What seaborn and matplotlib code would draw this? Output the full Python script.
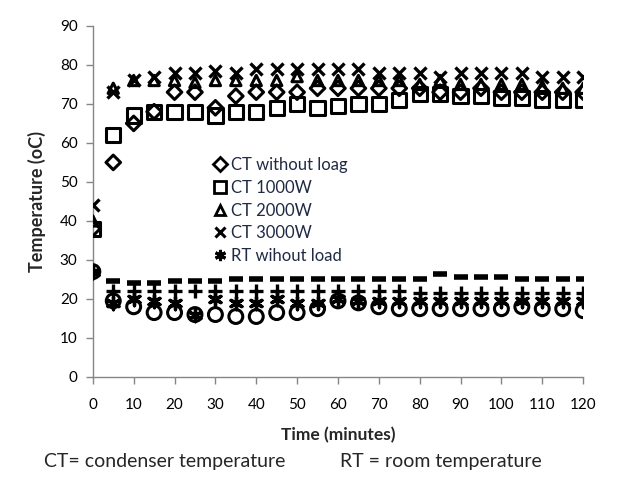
import matplotlib
matplotlib.use("Agg")
import matplotlib.pyplot as plt
from matplotlib.lines import Line2D
import seaborn as sns
import pandas as pd

time = [0, 5, 10, 15, 20, 25, 30, 35, 40, 45, 50, 55, 60, 65, 70, 75, 80, 85, 90, 95, 100, 105, 110, 115, 120]

ct_no_load = [38, 55, 65, 68, 73, 73, 69, 72, 73, 73, 73, 74, 74, 74, 74, 74, 74, 73, 73, 74, 73, 73, 73, 73, 73]
ct_1000 = [38, 62, 67, 68, 68, 68, 67, 68, 68, 69, 70, 69, 69.5, 70, 70, 71, 72.5, 72.5, 72, 72, 71.5, 71.5, 71, 71, 71]
ct_2000 = [40, 74, 76, 76, 76, 75.5, 76, 76, 76, 76, 77, 76, 76, 76, 76, 76, 75, 76, 75, 75, 75, 75, 74.5, 74, 74]
ct_3000 = [44, 73, 76, 77, 78, 78, 78.5, 78, 79, 79, 79, 79, 79, 79, 78, 78, 78, 77, 78, 78, 78, 78, 77, 77, 77]
rt_no_load = [27, 19, 20, 19.5, 19, 16, 20, 19, 19, 20, 19, 19, 20, 19.5, 19.5, 19.5, 19.5, 19.5, 19.5, 19.5, 19.5, 19.5, 19.5, 19.5, 19.5]
rt_1000 = [27, 19.5, 18, 16.5, 16.5, 16, 16, 15.5, 15.5, 16.5, 16.5, 17.5, 19.5, 19, 18, 17.5, 17.5, 17.5, 17.5, 17.5, 17.5, 18, 17.5, 17.5, 17]
rt_2000 = [27, 22, 22, 22, 22, 22, 22, 22, 22, 22, 22, 22, 22, 22, 22, 22, 21.5, 21.5, 21.5, 21.5, 21.5, 21.5, 21.5, 21.5, 21.5]
rt_3000 = [27, 24.5, 24, 24, 24.5, 24.5, 24.5, 25, 25, 25, 25, 25, 25, 25, 25, 25, 25, 26.5, 25.5, 25.5, 25.5, 25, 25, 25, 25]

legend_labels = ["CT without loag", "CT 1000W", "CT 2000W", "CT 3000W", "RT wihout load"]
x_ticks = list(range(0, 121, 10))
y_ticks = list(range(0, 91, 10))

series = [
    ("RT wihout load", rt_no_load, (6, 2, 0), False, 80),
    ("CT without loag", ct_no_load, "D", True, 55),
    ("CT 1000W", ct_1000, "s", True, 105),
    ("CT 2000W", ct_2000, "^", True, 55),
    ("CT 3000W", ct_3000, "x", False, 75),
    ("RT 1000W", rt_1000, "o", True, 100),
    ("RT 2000W", rt_2000, "+", False, 100),
    ("RT 3000W", rt_3000, "_", False, 100),
]

sns.set_style("white")
plt.rcParams['font.family'] = ['Lato', 'DejaVu Sans']

fig = plt.figure(figsize=(6.23, 4.79), dpi=100)
ax = fig.add_axes([0.149, 0.213, 0.787, 0.733])

handle_map = {}
for name, vals, mk, filled, size in series:
    df = pd.DataFrame({"time": time, "temp": vals})
    if filled:
        sns.scatterplot(data=df, x="time", y="temp", marker=mk, s=size,
                        facecolor="none", edgecolor="black", linewidth=2.2, ax=ax, zorder=3)
    else:
        lw = 4 if mk == "_" else 2.4
        sns.scatterplot(data=df, x="time", y="temp", marker=mk, s=size,
                        color="black", linewidth=lw, ax=ax, zorder=3)
    if name in legend_labels:
        if filled:
            h = Line2D([], [], linestyle="none", marker=mk, markersize=size ** 0.5 * 0.9,
                       markerfacecolor="none", markeredgecolor="black", markeredgewidth=2)
        else:
            h = Line2D([], [], linestyle="none", marker=mk, markersize=size ** 0.5 * 0.9,
                       color="black", markeredgewidth=2.2)
        handle_map[name] = h
handles = [handle_map[n] for n in legend_labels]

ax.set_xlim(0, 120)
ax.set_ylim(0, 90)
ax.set_xticks(x_ticks)
ax.set_yticks(y_ticks)
ax.tick_params(axis="both", labelsize=11, colors="#868686", length=5, width=1,
               direction="out", labelcolor="black")
ax.tick_params(axis="x", pad=10)
ax.tick_params(axis="y", pad=6)
ax.tick_params(left=True, bottom=True)
for s in ["top", "right"]:
    ax.spines[s].set_visible(False)
for s in ["left", "bottom"]:
    ax.spines[s].set_color("#868686")
    ax.spines[s].set_linewidth(1)

ax.set_xlabel("Time (minutes)", fontsize=12.5, fontweight="bold", labelpad=11)
ax.set_ylabel("Temperature (oC)", fontsize=13, fontweight="bold", labelpad=10)

leg = ax.legend(handles, legend_labels, loc="upper left",
                bbox_to_anchor=(205 / 623, 1 - 149 / 479), bbox_transform=fig.transFigure,
                frameon=False, fontsize=12, handlelength=0.8, handletextpad=0.25,
                labelspacing=0.4, borderpad=0)
for t in leg.get_texts():
    t.set_color("#1f2a44")

fig.text(44 / 623, 1 - 462 / 479, "CT= condenser temperature", fontsize=14, va="center")
fig.text(340 / 623, 1 - 462 / 479, "RT = room temperature", fontsize=14, va="center")

fig.savefig("out.png", dpi=100)
